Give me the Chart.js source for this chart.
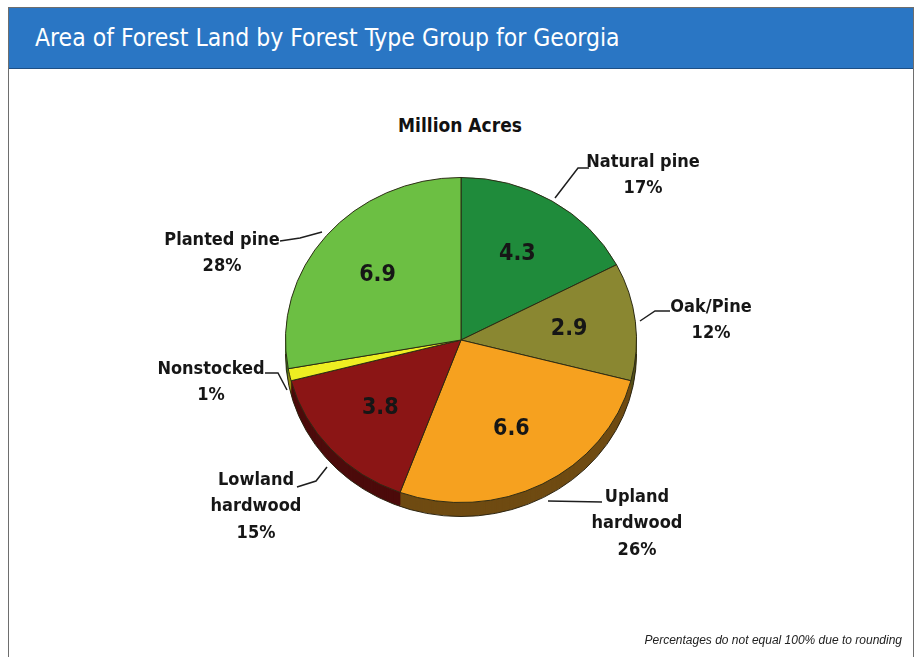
<!DOCTYPE html>
<html>
<head>
<meta charset="utf-8">
<script src="https://cdn.jsdelivr.net/npm/chart.js@4"></script>
<style>
  html, body { margin: 0; padding: 0; background: #fff; }
  body { width: 920px; height: 657px; position: relative; overflow: hidden; }
  #panel { position: absolute; left: 8px; top: 7px; width: 904px; height: 720px; border: 1.5px solid #6e6e6e; }
  #header { height: 60px; background: #2a76c4; border-bottom: 1.5px solid #1d4f85; }
  #header h1 {
    margin: 0; padding-left: 26px; line-height: 60px; color: #fff; font-weight: normal;
    font-size: 24.5px;
    font-family: "Liberation Sans Narrow", "DejaVu Sans Condensed", "Roboto", sans-serif;
  }
  #subtitle {
    position: absolute; left: 0; width: 920px; top: 114px; text-align: center; color: #111;
    font: bold 19px "Liberation Sans Narrow", "DejaVu Sans Condensed", sans-serif;
  }
  #note {
    position: absolute; right: 18px; top: 633px; color: #222;
    font: italic 12px "Liberation Sans", Arial, sans-serif;
  }
  canvas { position: absolute; left: 0; top: 0; }
</style>
</head>
<body>
<div id="panel"><div id="header"><h1>Area of Forest Land by Forest Type Group for Georgia</h1></div></div>
<div id="subtitle">Million Acres</div>
<canvas id="forest-pie" width="920" height="657"></canvas>
<div id="note">Percentages do not equal 100% due to rounding</div>
<script>
// forest type groups, clockwise from 12 o'clock
const categories = ['Natural pine', 'Oak/Pine', 'Upland hardwood', 'Lowland hardwood', 'Nonstocked', 'Planted pine'];
const acres = [4.3, 2.9, 6.6, 3.8, 0.3, 6.9];
const percentLabels = ['17%', '12%', '26%', '15%', '1%', '28%'];
const faceColors = ['#1f8b3b', '#8a8731', '#f6a11f', '#8b1515', '#eeee22', '#6cbf43'];
const sideColors = ['#10501f', '#54511a', '#6f4b12', '#4c0b0b', '#8f8f10', '#3d7022'];

const FONT = '"Liberation Sans Narrow", "DejaVu Sans Condensed", sans-serif';
const SQUASH = 163 / 176;   // flatten the pie a little so it looks tilted
const DEPTH = 14;           // thickness of the rim in px

// callout text blocks and their leader lines
const callouts = [
  { x: 643, y: 162, split: false, leader: [[555, 198], [578, 168], [589, 168]] },
  { x: 711, y: 307, split: false, leader: [[640, 321], [655, 311], [670, 311]] },
  { x: 637, y: 497, split: true,  leader: [[548, 501], [602, 502]] },
  { x: 256, y: 480, split: true,  leader: [[297, 487], [316, 481], [327, 467]] },
  { x: 211, y: 369, split: false, leader: [[265, 373], [278, 373], [287, 390]] },
  { x: 222, y: 240, split: false, leader: [[280, 241], [300, 238], [322, 232]] }
];

const tiltPlugin = {
  id: 'tilt',
  beforeDatasetsDraw(chart) {
    const ctx = chart.ctx;
    const arcs = chart.getDatasetMeta(0).data;
    const cy = arcs[0].y;
    ctx.save();
    ctx.translate(0, cy);
    ctx.scale(1, SQUASH);
    ctx.translate(0, -cy);
    // stack darker copies of every slice under the top face to make the rim
    for (let k = DEPTH; k >= 1; k--) {
      arcs.forEach((arc, i) => {
        const p = arc.getProps(['x', 'y', 'startAngle', 'endAngle', 'outerRadius'], true);
        const yy = p.y + k / SQUASH;
        ctx.beginPath();
        ctx.moveTo(p.x, yy);
        ctx.arc(p.x, yy, p.outerRadius, p.startAngle, p.endAngle);
        ctx.closePath();
        ctx.fillStyle = sideColors[i];
        ctx.fill();
      });
    }
    const p0 = arcs[0].getProps(['x', 'y', 'outerRadius'], true);
    ctx.beginPath();
    ctx.arc(p0.x, p0.y + DEPTH / SQUASH, p0.outerRadius, 0, Math.PI);
    ctx.strokeStyle = '#2a2210';
    ctx.lineWidth = 1;
    ctx.stroke();
  },
  afterDatasetsDraw(chart) {
    chart.ctx.restore();
  }
};

const labelPlugin = {
  id: 'sliceLabels',
  afterDraw(chart) {
    const ctx = chart.ctx;
    const arcs = chart.getDatasetMeta(0).data;
    ctx.save();
    ctx.textAlign = 'center';
    ctx.textBaseline = 'middle';
    ctx.fillStyle = '#161616';

    // values inside the slices
    ctx.font = 'bold 23px ' + FONT;
    arcs.forEach((arc, i) => {
      if (acres[i] < 1) return;
      const p = arc.getProps(['x', 'y', 'startAngle', 'endAngle', 'outerRadius'], true);
      const mid = (p.startAngle + p.endAngle) / 2;
      const rr = p.outerRadius * 0.62;
      ctx.fillText(acres[i].toFixed(1), p.x + Math.cos(mid) * rr, p.y + Math.sin(mid) * rr * SQUASH);
    });

    // callouts around the pie
    ctx.strokeStyle = '#1e1e1e';
    ctx.lineWidth = 1.5;
    callouts.forEach((c, i) => {
      ctx.beginPath();
      c.leader.forEach(([lx, ly], j) => (j ? ctx.lineTo(lx, ly) : ctx.moveTo(lx, ly)));
      ctx.stroke();
      const lines = (c.split ? categories[i].split(' ') : [categories[i]]).concat(percentLabels[i]);
      ctx.font = 'bold 18px ' + FONT;
      lines.forEach((t, j) => ctx.fillText(t, c.x, c.y + j * 26.5));
    });
    ctx.restore();
  }
};

new Chart(document.getElementById('forest-pie'), {
  type: 'pie',
  data: {
    labels: categories,
    datasets: [{
      data: acres,
      backgroundColor: faceColors,
      borderColor: '#2b2a14',
      borderWidth: 1
    }]
  },
  options: {
    responsive: false,
    animation: false,
    events: [],
    layout: { padding: { left: 285, right: 283, top: 164, bottom: 141 } },
    plugins: {
      legend: { display: false },
      tooltip: { enabled: false },
      title: { display: false }
    }
  },
  plugins: [tiltPlugin, labelPlugin]
});
</script>
</body>
</html>
